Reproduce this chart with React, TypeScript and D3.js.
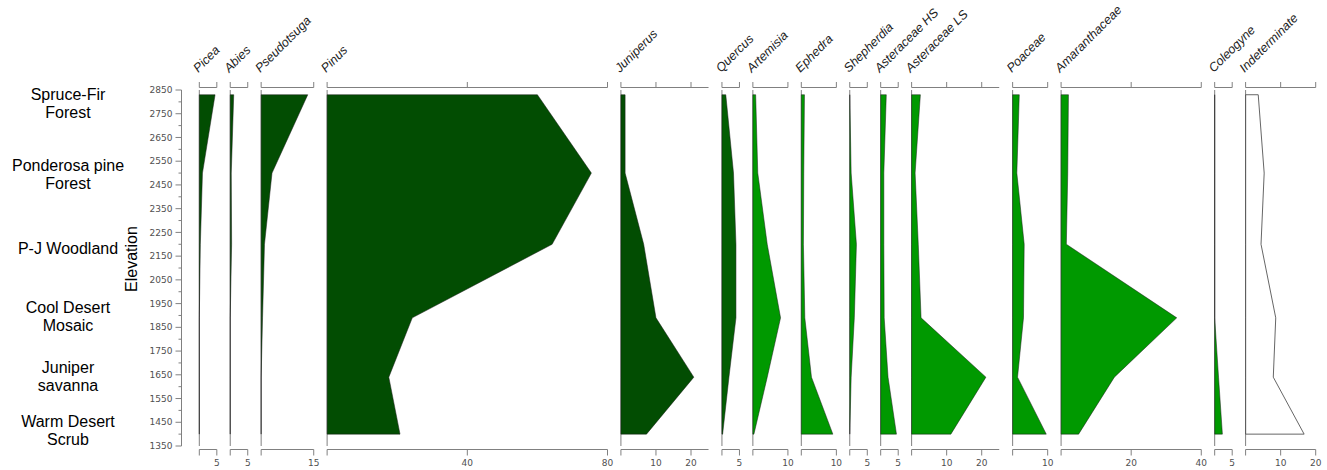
import React from "react";
import * as d3 from "d3";

const elevations = [2830, 2500, 2200, 1890, 1640, 1400];

const taxa = [
  "Picea", "Abies", "Pseudotsuga", "Pinus", "Juniperus", "Quercus",
  "Artemisia", "Ephedra", "Shepherdia", "Asteraceae HS", "Asteraceae LS",
  "Poaceae", "Amaranthaceae", "Coleogyne", "Indeterminate",
];
const groups = [
  "tree", "tree", "tree", "tree", "tree", "oak",
  "herb", "herb", "herb", "herb", "herb", "herb", "herb", "herb", "other",
];

const picea = [4.5, 0.9, 0.3, 0, 0, 0];
const abies = [1.0, 0.3, 0.4, 0, 0, 0];
const pseudotsuga = [13.3, 3.1, 0.95, 0.4, 0, 0];
const pinus = [60, 75.4, 64.2, 24.3, 17.6, 20.8];
const juniperus = [1.2, 1.2, 6.5, 10, 20.8, 7.3];
const quercus = [1.1, 3.3, 4.0, 4.0, 2.0, 0.2];
const artemisia = [0.8, 1.4, 4.1, 7.9, 4.1, 0.3];
const ephedra = [0.9, 0.7, 0.6, 1.0, 2.9, 9.0];
const shepherdia = [0, 0.4, 1.9, 1.3, 0.4, 0];
const asteraceaeHS = [1.6, 0.9, 0.9, 1.0, 2.1, 4.5];
const asteraceaeLS = [2.5, 1.0, 1.9, 2.7, 21.2, 11.2];
const poaceae = [1.9, 1.2, 3.3, 3.1, 1.4, 9.6];
const amaranthaceae = [2.1, 1.9, 1.5, 33, 15.2, 5.0];
const coleogyne = [0, 0, 0, 0, 1.1, 2.2];
const indeterminate = [3.6, 5.3, 4.4, 8.6, 7.9, 16.7];

const series = [
  picea, abies, pseudotsuga, pinus, juniperus, quercus, artemisia, ephedra,
  shepherdia, asteraceaeHS, asteraceaeLS, poaceae, amaranthaceae, coleogyne, indeterminate,
];

const axisMax = [5, 5, 15, 80, 25, 5, 10, 10, 5, 5, 25, 10, 40, 5, 20];
const axisTicks = [
  [0, 5], [0, 5], [0, 15], [0, 40, 80], [0, 10, 20], [0, 5], [0, 10], [0, 10],
  [0, 5], [0, 5], [0, 10, 20], [0, 10], [0, 20, 40], [0, 5], [0, 10, 20],
];

const zoneLabels = [
  ["Spruce-Fir", "Forest"],
  ["Ponderosa pine", "Forest"],
  ["P-J Woodland"],
  ["Cool Desert", "Mosaic"],
  ["Juniper", "savanna"],
  ["Warm Desert", "Scrub"],
];
const zoneElev = [2795, 2495, 2185, 1895, 1645, 1415];

const yDomain = [1350, 2850];
const yMajor = d3.range(1350, 2851, 100);
const yMinor = d3.range(1400, 2801, 100);

const W = 1327;
const H = 470;

const fillFor: Record<string, string> = {
  tree: "#024d02",
  oak: "#035e03",
  herb: "#009900",
  other: "none",
};

export default function App() {
  const y = d3.scaleLinear().domain(yDomain).range([446, 90]);
  const xStart = 199.3;
  const xEnd = 1315.7;
  const gap = 13.4;
  const total = d3.sum(axisMax);
  const k = (xEnd - xStart - gap * (taxa.length - 1)) / total;
  let cursor = xStart;
  const panels = taxa.map((name, i) => {
    const left = cursor;
    const width = axisMax[i] * k;
    cursor += width + gap;
    const x = d3.scaleLinear().domain([0, axisMax[i]]).range([left, left + width]);
    return { name, i, x, left, right: left + width };
  });

  const axisColor = "#808080";
  const labelColor = "#505050";
  const tickFont = "'DejaVu Sans', sans-serif";

  return (
    <svg
      width={W}
      height={H}
      style={{ position: "absolute", left: 0, top: 0, background: "#fff" }}
      fontFamily="'Liberation Sans', Arial, sans-serif"
    >
      <rect x={0} y={0} width={W} height={H} fill="#fff" />
      {zoneLabels.map((lines, zi) => {
        const cy = y(zoneElev[zi]);
        const lh = 18;
        const startBase = cy - ((lines.length - 1) * lh) / 2 + 5.7;
        return (
          <text key={zi} x={68} textAnchor="middle" fontSize={16} fill="#000">
            {lines.map((ln, li) => (
              <tspan key={li} x={68} y={startBase + li * lh}>
                {ln}
              </tspan>
            ))}
          </text>
        );
      })}
      <text
        transform={`translate(136.5,259) rotate(-90)`}
        textAnchor="middle"
        fontSize={16}
        fill="#000"
      >
        Elevation
      </text>
      <g>
        <line x1={181.5} x2={181.5} y1={y(yDomain[0])} y2={y(yDomain[1])} stroke={axisColor} />
        {yMajor.map((v) => (
          <g key={"M" + v}>
            <line x1={175.5} x2={181.5} y1={y(v)} y2={y(v)} stroke={axisColor} />
            <text
              x={172.5}
              y={y(v)}
              dy="0.35em"
              textAnchor="end"
              fontSize={9}
              fontFamily={tickFont}
              fill={labelColor}
            >
              {v}
            </text>
          </g>
        ))}
        {yMinor.map((v) => (
          <line key={"m" + v} x1={178.5} x2={181.5} y1={y(v)} y2={y(v)} stroke={axisColor} />
        ))}
      </g>
      {panels.map((p) => {
        const vals = series[p.i];
        const pts = elevations.map((e, j) => ({ e, v: vals[j] }));
        const area = d3
          .area<{ e: number; v: number }>()
          .y((d) => y(d.e))
          .x0(() => p.x(0))
          .x1((d) => p.x(d.v));
        const g = groups[p.i];
        const isOther = g === "other";
        const topY = 87.5;
        const botY = 449.5;
        return (
          <g key={p.name}>
            <line
              x1={p.left}
              x2={p.left}
              y1={y(yDomain[1])}
              y2={y(yDomain[0])}
              stroke={axisColor}
              strokeWidth={1}
            />
            <path
              d={area(pts) || ""}
              fill={fillFor[g]}
              stroke={isOther ? "#555" : "#1a1a1a"}
              strokeWidth={isOther ? 0.9 : 0.5}
            />
            <line x1={p.left} x2={p.right} y1={topY} y2={topY} stroke={axisColor} />
            {axisTicks[p.i].map((t) => (
              <line key={"t" + t} x1={p.x(t)} x2={p.x(t)} y1={topY} y2={topY - 5.5} stroke={axisColor} />
            ))}
            <line x1={p.left} x2={p.right} y1={botY} y2={botY} stroke={axisColor} />
            {axisTicks[p.i].map((t) => (
              <g key={"b" + t}>
                <line x1={p.x(t)} x2={p.x(t)} y1={botY} y2={botY + 6} stroke={axisColor} />
                {t !== 0 && (
                  <text
                    x={p.x(t)}
                    y={466}
                    textAnchor="middle"
                    fontSize={9}
                    fontFamily={tickFont}
                    fill={labelColor}
                  >
                    {t}
                  </text>
                )}
              </g>
            ))}
            <text
              transform={`translate(${p.left - 1},73) rotate(-45)`}
              fontSize={12.5}
              fontStyle="italic"
              fill="#222"
            >
              {p.name}
            </text>
          </g>
        );
      })}
    </svg>
  );
}
